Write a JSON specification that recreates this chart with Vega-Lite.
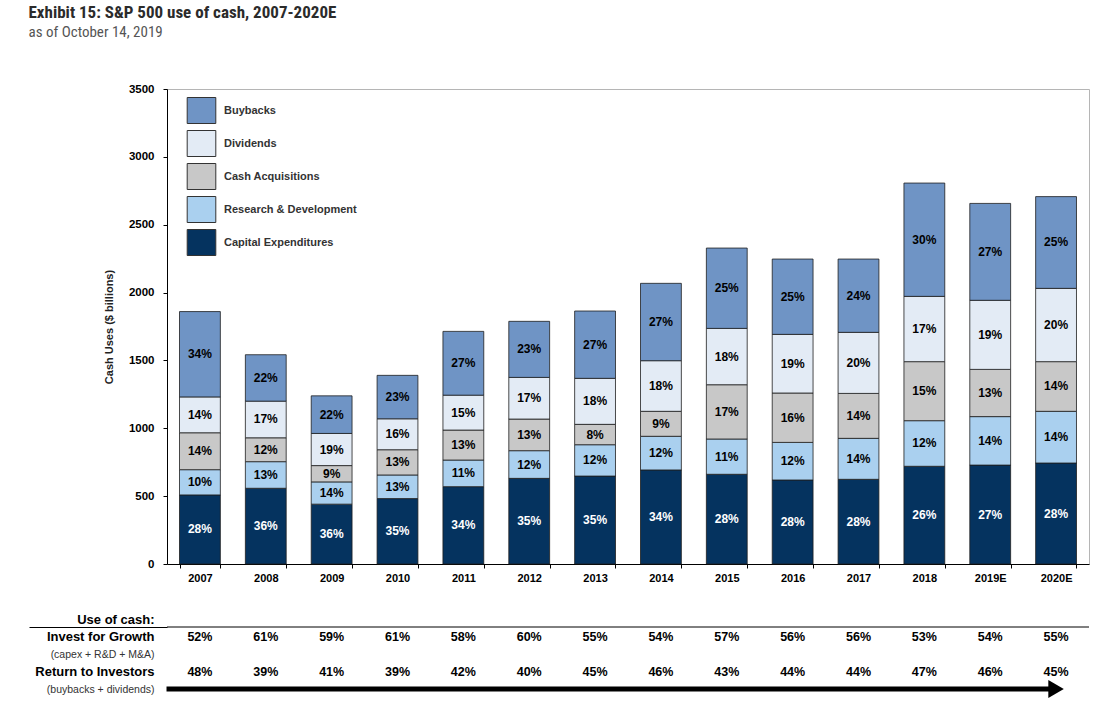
{
  "$schema": "https://vega.github.io/schema/vega-lite/v6.json",
  "background": "white",
  "padding": {"left": 28, "top": 3, "right": 5, "bottom": 5},
  "title": {
    "text": "Exhibit 15: S&P 500 use of cash, 2007-2020E",
    "subtitle": "as of October 14, 2019",
    "anchor": "start",
    "font": "Liberation Sans Narrow, Roboto Condensed, DejaVu Sans Condensed, Liberation Sans",
    "fontSize": 17,
    "fontWeight": "bold",
    "color": "#2b2b2b",
    "subtitleFont": "Liberation Sans Narrow, Roboto Condensed, DejaVu Sans Condensed, Liberation Sans",
    "subtitleFontSize": 15,
    "subtitleColor": "#555555",
    "subtitlePadding": 3,
    "offset": 42
  },
  "config": {
    "font": "Liberation Sans",
    "view": {"stroke": null},
    "axis": {"domainColor": "#000", "tickColor": "#000", "labelColor": "#000", "labelFontWeight": "bold", "grid": false}
  },
  "datasets": {
    "uses": [
      {"year": "2007", "use": "Capital Expenditures", "value": 509, "pct": 0.28},
      {"year": "2007", "use": "Research & Development", "value": 186, "pct": 0.10},
      {"year": "2007", "use": "Cash Acquisitions", "value": 272, "pct": 0.14},
      {"year": "2007", "use": "Dividends", "value": 264, "pct": 0.14},
      {"year": "2007", "use": "Buybacks", "value": 629, "pct": 0.34},
      {"year": "2008", "use": "Capital Expenditures", "value": 558, "pct": 0.36},
      {"year": "2008", "use": "Research & Development", "value": 196, "pct": 0.13},
      {"year": "2008", "use": "Cash Acquisitions", "value": 176, "pct": 0.12},
      {"year": "2008", "use": "Dividends", "value": 270, "pct": 0.17},
      {"year": "2008", "use": "Buybacks", "value": 342, "pct": 0.22},
      {"year": "2009", "use": "Capital Expenditures", "value": 441, "pct": 0.36},
      {"year": "2009", "use": "Research & Development", "value": 164, "pct": 0.14},
      {"year": "2009", "use": "Cash Acquisitions", "value": 120, "pct": 0.09},
      {"year": "2009", "use": "Dividends", "value": 237, "pct": 0.19},
      {"year": "2009", "use": "Buybacks", "value": 277, "pct": 0.22},
      {"year": "2010", "use": "Capital Expenditures", "value": 482, "pct": 0.35},
      {"year": "2010", "use": "Research & Development", "value": 174, "pct": 0.13},
      {"year": "2010", "use": "Cash Acquisitions", "value": 186, "pct": 0.13},
      {"year": "2010", "use": "Dividends", "value": 228, "pct": 0.16},
      {"year": "2010", "use": "Buybacks", "value": 320, "pct": 0.23},
      {"year": "2011", "use": "Capital Expenditures", "value": 570, "pct": 0.34},
      {"year": "2011", "use": "Research & Development", "value": 196, "pct": 0.11},
      {"year": "2011", "use": "Cash Acquisitions", "value": 221, "pct": 0.13},
      {"year": "2011", "use": "Dividends", "value": 257, "pct": 0.15},
      {"year": "2011", "use": "Buybacks", "value": 470, "pct": 0.27},
      {"year": "2012", "use": "Capital Expenditures", "value": 631, "pct": 0.35},
      {"year": "2012", "use": "Research & Development", "value": 204, "pct": 0.12},
      {"year": "2012", "use": "Cash Acquisitions", "value": 233, "pct": 0.13},
      {"year": "2012", "use": "Dividends", "value": 307, "pct": 0.17},
      {"year": "2012", "use": "Buybacks", "value": 413, "pct": 0.23},
      {"year": "2013", "use": "Capital Expenditures", "value": 648, "pct": 0.35},
      {"year": "2013", "use": "Research & Development", "value": 231, "pct": 0.12},
      {"year": "2013", "use": "Cash Acquisitions", "value": 150, "pct": 0.08},
      {"year": "2013", "use": "Dividends", "value": 339, "pct": 0.18},
      {"year": "2013", "use": "Buybacks", "value": 496, "pct": 0.27},
      {"year": "2014", "use": "Capital Expenditures", "value": 693, "pct": 0.34},
      {"year": "2014", "use": "Research & Development", "value": 248, "pct": 0.12},
      {"year": "2014", "use": "Cash Acquisitions", "value": 184, "pct": 0.09},
      {"year": "2014", "use": "Dividends", "value": 373, "pct": 0.18},
      {"year": "2014", "use": "Buybacks", "value": 570, "pct": 0.27},
      {"year": "2015", "use": "Capital Expenditures", "value": 661, "pct": 0.28},
      {"year": "2015", "use": "Research & Development", "value": 260, "pct": 0.11},
      {"year": "2015", "use": "Cash Acquisitions", "value": 400, "pct": 0.17},
      {"year": "2015", "use": "Dividends", "value": 415, "pct": 0.18},
      {"year": "2015", "use": "Buybacks", "value": 592, "pct": 0.25},
      {"year": "2016", "use": "Capital Expenditures", "value": 619, "pct": 0.28},
      {"year": "2016", "use": "Research & Development", "value": 277, "pct": 0.12},
      {"year": "2016", "use": "Cash Acquisitions", "value": 364, "pct": 0.16},
      {"year": "2016", "use": "Dividends", "value": 432, "pct": 0.19},
      {"year": "2016", "use": "Buybacks", "value": 555, "pct": 0.25},
      {"year": "2017", "use": "Capital Expenditures", "value": 624, "pct": 0.28},
      {"year": "2017", "use": "Research & Development", "value": 302, "pct": 0.14},
      {"year": "2017", "use": "Cash Acquisitions", "value": 331, "pct": 0.14},
      {"year": "2017", "use": "Dividends", "value": 450, "pct": 0.20},
      {"year": "2017", "use": "Buybacks", "value": 540, "pct": 0.24},
      {"year": "2018", "use": "Capital Expenditures", "value": 720, "pct": 0.26},
      {"year": "2018", "use": "Research & Development", "value": 336, "pct": 0.12},
      {"year": "2018", "use": "Cash Acquisitions", "value": 435, "pct": 0.15},
      {"year": "2018", "use": "Dividends", "value": 481, "pct": 0.17},
      {"year": "2018", "use": "Buybacks", "value": 835, "pct": 0.30},
      {"year": "2019E", "use": "Capital Expenditures", "value": 729, "pct": 0.27},
      {"year": "2019E", "use": "Research & Development", "value": 357, "pct": 0.14},
      {"year": "2019E", "use": "Cash Acquisitions", "value": 348, "pct": 0.13},
      {"year": "2019E", "use": "Dividends", "value": 509, "pct": 0.19},
      {"year": "2019E", "use": "Buybacks", "value": 714, "pct": 0.27},
      {"year": "2020E", "use": "Capital Expenditures", "value": 744, "pct": 0.28},
      {"year": "2020E", "use": "Research & Development", "value": 381, "pct": 0.14},
      {"year": "2020E", "use": "Cash Acquisitions", "value": 366, "pct": 0.14},
      {"year": "2020E", "use": "Dividends", "value": 540, "pct": 0.20},
      {"year": "2020E", "use": "Buybacks", "value": 676, "pct": 0.25}
    ],
    "mix": [
      {"year": "2007", "row": "Invest for Growth", "pct": 0.52},
      {"year": "2008", "row": "Invest for Growth", "pct": 0.61},
      {"year": "2009", "row": "Invest for Growth", "pct": 0.59},
      {"year": "2010", "row": "Invest for Growth", "pct": 0.61},
      {"year": "2011", "row": "Invest for Growth", "pct": 0.58},
      {"year": "2012", "row": "Invest for Growth", "pct": 0.60},
      {"year": "2013", "row": "Invest for Growth", "pct": 0.55},
      {"year": "2014", "row": "Invest for Growth", "pct": 0.54},
      {"year": "2015", "row": "Invest for Growth", "pct": 0.57},
      {"year": "2016", "row": "Invest for Growth", "pct": 0.56},
      {"year": "2017", "row": "Invest for Growth", "pct": 0.56},
      {"year": "2018", "row": "Invest for Growth", "pct": 0.53},
      {"year": "2019E", "row": "Invest for Growth", "pct": 0.54},
      {"year": "2020E", "row": "Invest for Growth", "pct": 0.55},
      {"year": "2007", "row": "Return to Investors", "pct": 0.48},
      {"year": "2008", "row": "Return to Investors", "pct": 0.39},
      {"year": "2009", "row": "Return to Investors", "pct": 0.41},
      {"year": "2010", "row": "Return to Investors", "pct": 0.39},
      {"year": "2011", "row": "Return to Investors", "pct": 0.42},
      {"year": "2012", "row": "Return to Investors", "pct": 0.40},
      {"year": "2013", "row": "Return to Investors", "pct": 0.45},
      {"year": "2014", "row": "Return to Investors", "pct": 0.46},
      {"year": "2015", "row": "Return to Investors", "pct": 0.43},
      {"year": "2016", "row": "Return to Investors", "pct": 0.44},
      {"year": "2017", "row": "Return to Investors", "pct": 0.44},
      {"year": "2018", "row": "Return to Investors", "pct": 0.47},
      {"year": "2019E", "row": "Return to Investors", "pct": 0.46},
      {"year": "2020E", "row": "Return to Investors", "pct": 0.45}
    ],
    "header": [{"row": "Use of cash:"}],
    "arrow": [{"from": "2007", "to": "2020E", "row": "(buybacks + dividends)"}]
  },
  "spacing": 29,
  "vconcat": [
    {
      "width": 922,
      "height": 475,
      "view": {"stroke": "#b5b5b5"},
      "data": {"name": "uses"},
      "transform": [
        {"calculate": "indexof(['Capital Expenditures', 'Research & Development', 'Cash Acquisitions', 'Dividends', 'Buybacks'], datum.use)", "as": "k"},
        {"stack": "value", "groupby": ["year"], "sort": [{"field": "k", "order": "ascending"}], "as": ["lo", "hi"]},
        {"calculate": "(datum.lo + datum.hi) / 2", "as": "mid"}
      ],
      "encoding": {
        "x": {
          "field": "year",
          "type": "nominal",
          "scale": {"type": "band", "paddingInner": 0.38, "paddingOuter": 0.19},
          "axis": {"title": null, "labelAngle": 0, "labelFontSize": 11, "labelPadding": 4, "tickSize": 4, "tickBand": "extent"}
        }
      },
      "layer": [
        {
          "mark": {"type": "bar", "stroke": "#1e1e1e", "strokeWidth": 0.8},
          "encoding": {
            "y": {
              "field": "lo",
              "type": "quantitative",
              "scale": {"domain": [0, 3500]},
              "axis": {
                "title": "Cash Uses ($ billions)",
                "values": [0, 500, 1000, 1500, 2000, 2500, 3000, 3500],
                "format": "d",
                "labelFontSize": 11.5,
                "tickSize": 4,
                "labelPadding": 9,
                "titleFontSize": 11,
                "titleFontWeight": "bold",
                "titleColor": "#222",
                "titlePadding": 14
              }
            },
            "y2": {"field": "hi"},
            "color": {
              "field": "use",
              "type": "nominal",
              "scale": {
                "domain": ["Buybacks", "Dividends", "Cash Acquisitions", "Research & Development", "Capital Expenditures"],
                "range": ["#6f94c5", "#e3ebf5", "#c8c8c8", "#aad0ef", "#05335f"]
              },
              "legend": {
                "title": null,
                "orient": "none",
                "legendX": 21,
                "legendY": 8,
                "padding": 0,
                "symbolType": "M-1.1,-1H1.1V1H-1.1Z",
                "symbolSize": 676,
                "symbolStrokeColor": "#333",
                "symbolStrokeWidth": 1,
                "symbolOpacity": 1,
                "rowPadding": 2,
                "labelOffset": 9,
                "labelFontSize": 11,
                "labelFontWeight": "bold",
                "labelColor": "#333"
              }
            }
          }
        },
        {
          "mark": {"type": "text", "fontSize": 12, "fontWeight": "bold"},
          "encoding": {
            "y": {"field": "mid", "type": "quantitative"},
            "text": {"field": "pct", "type": "quantitative", "format": ".0%"},
            "color": {"condition": {"test": "datum.use === 'Capital Expenditures'", "value": "#ffffff"}, "value": "#000000"}
          }
        }
      ]
    },
    {
      "width": 922,
      "height": 70,
      "encoding": {
        "y": {
          "field": "row",
          "type": "nominal",
          "scale": {
            "type": "point",
            "padding": 0,
            "domain": ["Use of cash:", "Invest for Growth", "(capex + R&D + M&A)", "Return to Investors", "(buybacks + dividends)"]
          },
          "axis": {
            "title": null,
            "domain": false,
            "tickSize": 138,
            "tickOffset": 8,
            "labelOffset": -8,
            "labelPadding": -125,
            "tickColor": {"condition": {"test": "datum.value === 'Use of cash:'", "value": "#000"}, "value": "transparent"},
            "labelFontSize": {"condition": {"test": "indexof(datum.value, '(') === 0", "value": 10.5}, "value": 13},
            "labelFontWeight": {"condition": {"test": "indexof(datum.value, '(') === 0", "value": "normal"}, "value": "bold"},
            "labelColor": {"condition": {"test": "indexof(datum.value, '(') === 0", "value": "#333"}, "value": "#000"}
          }
        }
      },
      "layer": [
        {
          "data": {"name": "header"},
          "mark": {"type": "rule", "yOffset": 8, "color": "#000", "strokeWidth": 1}
        },
        {
          "data": {"name": "mix"},
          "mark": {"type": "text", "fontSize": 12.5, "fontWeight": "bold", "color": "#000"},
          "encoding": {
            "x": {
              "field": "year",
              "type": "nominal",
              "scale": {"type": "band", "paddingInner": 0.38, "paddingOuter": 0.19},
              "axis": null
            },
            "text": {"field": "pct", "type": "quantitative", "format": ".0%"}
          }
        },
        {
          "data": {"name": "arrow"},
          "mark": {"type": "rule", "strokeWidth": 5, "color": "#000", "xOffset": -13},
          "encoding": {
            "x": {"field": "from", "type": "nominal", "bandPosition": 0},
            "x2": {"field": "to"}
          }
        },
        {
          "data": {"name": "arrow"},
          "mark": {"type": "point", "shape": "triangle-right", "filled": true, "size": 320, "color": "#000", "opacity": 1},
          "encoding": {
            "x": {"field": "to", "type": "nominal"}
          }
        }
      ]
    }
  ]
}
